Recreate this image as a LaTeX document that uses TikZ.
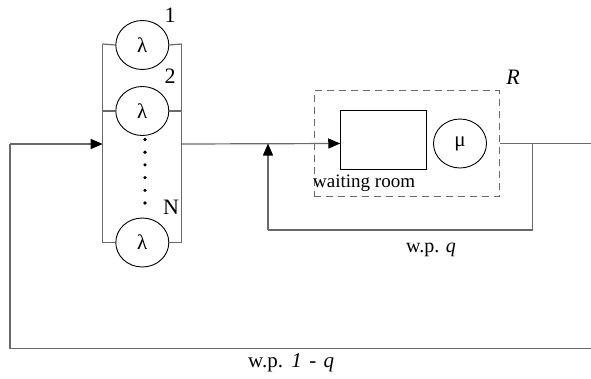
\documentclass[tikz,border=0pt]{standalone}
\usepackage{fontspec}
\setmainfont{Liberation Serif}
\usetikzlibrary{arrows.meta,shapes.geometric}
\definecolor{linegray}{RGB}{105,105,105}
\begin{document}
\begin{tikzpicture}[x=1pt,y=-1pt,
  wire/.style={draw=linegray,line width=1.2pt},
  arr/.style={wire,-{Triangle[length=12pt,width=10pt,color=black]}},
  server/.style={draw=black,line width=0.9pt,ellipse,minimum width=53pt,minimum height=49pt,inner sep=0pt,fill=white,font=\fontsize{21}{24}\selectfont},
  room/.style={draw=black,line width=0.9pt,rectangle,minimum width=86pt,minimum height=59pt,inner sep=0pt},
  frame/.style={draw=linegray,line width=1pt,dash pattern=on 7pt off 5pt,rectangle,minimum width=185pt,minimum height=106pt,inner sep=0pt},
  lbl/.style={inner sep=0pt,font=\fontsize{19}{22}\selectfont},
  big/.style={inner sep=0pt,font=\fontsize{22}{24}\selectfont},
  dot/.style={circle,fill=black,inner sep=0pt,minimum size=3.6pt}]
\useasboundingbox (0,0) rectangle (591,378);
% parallel servers
\coordinate (lt) at (102.7,44);
\coordinate (lm) at (102.7,111);
\coordinate (lb) at (102.7,242.7);
\coordinate (rt) at (181.7,44);
\coordinate (rm) at (181.7,111);
\coordinate (rb) at (181.7,242.7);
\coordinate (inp) at (102.7,144);
\coordinate (outp) at (181.7,144);
\draw[wire] (lt) -- (lb);
\draw[wire] (rt) -- (rb);
\node[server] (lam1) at (142.3,45) {λ};
\node[server] (lam2) at (142.3,111) {λ};
\node[server] (lamN) at (142.3,242.5) {λ};
\draw[wire] (lt) -- (lam1.west);
\draw[wire] (lam1.east) -- (rt);
\draw[wire] (lm) -- (lam2.west);
\draw[wire] (lam2.east) -- (rm);
\draw[wire] (lb) -- (lamN.west |- lb);
\draw[wire] (lamN.east |- rb) -- (rb);
\foreach \i in {0,...,5} \node[dot] (d\i) at (145,139.5+12.7*\i) {};
\node[big] (n1) at (170,15) {1};
\node[big] (n2) at (170,76) {2};
\node[big] (nN) at (171,207) {N};
% station R
\node[frame] (box) at (406.8,143.7) {};
\node[room] (wr) at (383.7,140.4) {};
\node[server] (mu) at (460,143.5) {μ};
\node[big,font=\fontsize{22}{24}\selectfont\itshape] (R) at (513,77) {R};
\node[lbl,anchor=west] (wrl) at (313,183) {waiting room};
\coordinate (split) at (532.7,143.5);
\coordinate (qr) at (532.7,230);
\coordinate (ql) at (268,230);
\coordinate (qj) at (268,143.5);
\coordinate (exit) at (591,143.5);
\draw[arr] (outp) -- (wr.west |- qj);
\draw[wire] (box.east |- split) -- (exit);
\draw[wire] (split) -- (qr) -- (ql);
\draw[arr] (ql) -- (qj);
\node[lbl,font=\fontsize{20}{24}\selectfont] (wpq) at (431,250) {w.p. \textit{q}};
% outer loop
\coordinate (or) at (591,348.5);
\coordinate (ol) at (10,348.5);
\coordinate (ot) at (10,144);
\draw[wire] (or) -- (ol) -- (ot);
\draw[arr] (ot) -- (inp);
\node[lbl,anchor=west,font=\fontsize{21}{24}\selectfont] (wp1q) at (248,363) {w.p.\hspace{0.4em}\textit{1}\hspace{0.35em}-\hspace{0.35em}\textit{q}};
\end{tikzpicture}
\end{document}
